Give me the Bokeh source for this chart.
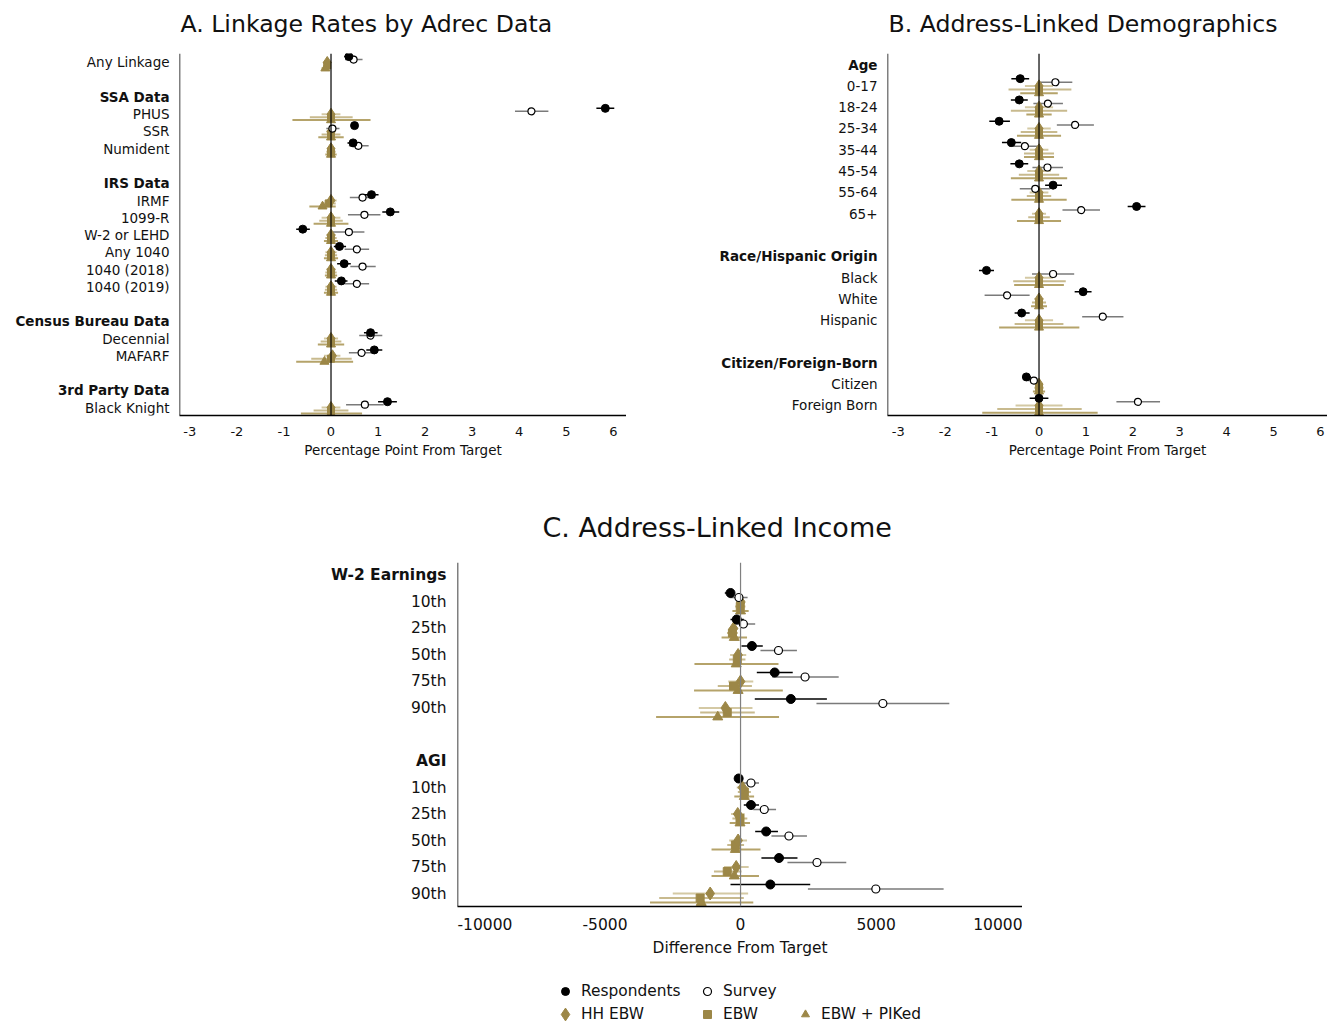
from bokeh.plotting import figure
from bokeh.layouts import column, row
from bokeh.models import Range1d, FixedTicker, Span, Legend, LegendItem, ColumnDataSource, Spacer, Title
from bokeh.core.properties import value
from bokeh.embed import file_html
from bokeh.resources import INLINE

FONT = "DejaVu Sans"
GOLD = "#9c8747"

series_names = ["Respondents", "Survey", "HH EBW", "EBW", "EBW + PIKed"]

# ---------------- Panel A data ----------------
a_rows = ["Any Linkage", "", "SSA Data", "PHUS", "SSR", "Numident", "", "IRS Data", "IRMF", "1099-R",
          "W-2 or LEHD", "Any 1040", "1040 (2018)", "1040 (2019)", "", "Census Bureau Data", "Decennial",
          "MAFARF", "", "3rd Party Data", "Black Knight"]
a_headers = ["SSA Data", "IRS Data", "Census Bureau Data", "3rd Party Data"]
a_resp    = [0.38, 5.83, 0.50, 0.47, 0.86, 1.26, -0.60, 0.18, 0.28, 0.22, 0.84, 0.92, 1.20]
a_resp_lo = [0.28, 5.64, 0.46, 0.35, 0.71, 1.09, -0.74, 0.06, 0.13, 0.08, 0.70, 0.75, 1.00]
a_resp_hi = [0.50, 6.02, 0.54, 0.60, 1.01, 1.45, -0.45, 0.32, 0.42, 0.35, 0.99, 1.09, 1.40]
a_surv    = [0.48, 4.26, 0.03, 0.58, 0.67, 0.71, 0.38, 0.55, 0.67, 0.55, 0.84, 0.65, 0.72]
a_surv_lo = [0.30, 3.91, -0.10, 0.38, 0.40, 0.36, 0.03, 0.29, 0.41, 0.29, 0.60, 0.38, 0.32]
a_surv_hi = [0.67, 4.62, 0.18, 0.80, 0.94, 1.05, 0.71, 0.81, 0.95, 0.81, 1.09, 0.92, 1.12]
a_hh      = [-0.08, 0.00, 0.00, 0.00, 0.00, 0.00, 0.00, 0.00, 0.00, 0.00, 0.00, 0.03, 0.00]
a_hh_lo   = [-0.15, -0.20, -0.10, -0.08, -0.12, -0.20, -0.10, -0.12, -0.10, -0.12, -0.15, -0.15, -0.20]
a_hh_hi   = [0.00, 0.20, 0.10, 0.08, 0.12, 0.20, 0.10, 0.12, 0.10, 0.12, 0.15, 0.20, 0.20]
a_ebw     = [-0.08, 0.00, 0.00, 0.00, -0.05, 0.00, 0.00, 0.00, 0.00, 0.00, 0.00, 0.00, 0.00]
a_ebw_lo  = [-0.16, -0.45, -0.20, -0.10, -0.20, -0.25, -0.12, -0.13, -0.12, -0.13, -0.22, -0.42, -0.37]
a_ebw_hi  = [0.00, 0.46, 0.20, 0.10, 0.10, 0.25, 0.12, 0.13, 0.12, 0.13, 0.22, 0.44, 0.37]
a_pik     = [-0.12, 0.00, 0.00, 0.00, -0.18, 0.00, 0.00, 0.00, 0.00, 0.00, 0.00, -0.14, 0.00]
a_pik_lo  = [-0.20, -0.82, -0.27, -0.12, -0.46, -0.37, -0.15, -0.15, -0.13, -0.15, -0.28, -0.74, -0.64]
a_pik_hi  = [-0.03, 0.84, 0.27, 0.12, 0.10, 0.37, 0.15, 0.15, 0.13, 0.15, 0.28, 0.47, 0.66]
a_ticks = [-3, -2, -1, 0, 1, 2, 3, 4, 5, 6]
a_tick_labels = ["-3", "-2", "-1", "0", "1", "2", "3", "4", "5", "6"]

# ---------------- Panel B data ----------------
b_rows = ["Age", "0-17", "18-24", "25-34", "35-44", "45-54", "55-64", "65+", "", "Race/Hispanic Origin",
          "Black", "White", "Hispanic", "", "Citizen/Foreign-Born", "Citizen", "Foreign Born"]
b_headers = ["Age", "Race/Hispanic Origin", "Citizen/Foreign-Born"]
b_resp    = [-0.40, -0.42, -0.85, -0.59, -0.42, 0.30, 2.08, -1.12, 0.94, -0.37, -0.27, 0.00]
b_resp_lo = [-0.59, -0.60, -1.06, -0.79, -0.61, 0.13, 1.89, -1.28, 0.76, -0.52, -0.34, -0.20]
b_resp_hi = [-0.21, -0.24, -0.62, -0.38, -0.23, 0.49, 2.27, -0.96, 1.12, -0.20, -0.17, 0.20]
b_surv    = [0.35, 0.19, 0.77, -0.30, 0.18, -0.08, 0.90, 0.30, -0.68, 1.36, -0.11, 2.11]
b_surv_lo = [0.03, -0.12, 0.38, -0.64, -0.14, -0.41, 0.50, -0.15, -1.16, 0.92, -0.25, 1.65]
b_surv_hi = [0.71, 0.51, 1.17, 0.04, 0.51, 0.24, 1.30, 0.75, -0.20, 1.80, 0.02, 2.58]
b_hh      = [0.00, 0.00, 0.00, 0.00, 0.00, 0.00, 0.00, 0.00, 0.00, 0.00, 0.00, 0.00]
b_hh_lo   = [-0.30, -0.30, -0.25, -0.20, -0.25, -0.20, -0.15, -0.30, -0.10, -0.30, -0.08, -0.50]
b_hh_hi   = [0.30, 0.30, 0.25, 0.20, 0.25, 0.20, 0.15, 0.30, 0.10, 0.30, 0.08, 0.50]
b_ebw     = [0.00, 0.00, 0.00, 0.00, 0.00, 0.00, 0.00, 0.00, 0.00, 0.00, 0.00, 0.00]
b_ebw_lo  = [-0.65, -0.60, -0.39, -0.32, -0.43, -0.26, -0.23, -0.55, -0.15, -0.52, -0.10, -0.89]
b_ebw_hi  = [0.69, 0.60, 0.39, 0.32, 0.43, 0.26, 0.23, 0.57, 0.15, 0.52, 0.10, 0.91]
b_pik     = [0.00, 0.00, 0.00, 0.00, 0.00, 0.00, 0.00, 0.00, 0.00, 0.00, 0.00, 0.00]
b_pik_lo  = [-0.40, -0.27, -0.47, -0.32, -0.60, -0.59, -0.47, -0.53, -0.17, -0.85, -0.13, -1.21]
b_pik_hi  = [0.40, 0.27, 0.47, 0.32, 0.60, 0.59, 0.47, 0.53, 0.17, 0.86, 0.13, 1.25]
b_ticks = a_ticks
b_tick_labels = a_tick_labels

# ---------------- Panel C data ----------------
c_rows = ["W-2 Earnings", "10th", "25th", "50th", "75th", "90th", "", "AGI", "10th", "25th", "50th", "75th", "90th"]
c_headers = ["W-2 Earnings", "AGI"]
c_resp    = [-370, -140, 420, 1260, 1855, -70, 385, 945, 1420, 1100]
c_resp_lo = [-580, -370, 35, 600, 525, -190, 120, 540, 770, -370]
c_resp_hi = [-230, 120, 820, 1925, 3185, 70, 680, 1380, 2100, 2570]
c_surv    = [-60, 105, 1400, 2380, 5250, 385, 875, 1785, 2820, 4990]
c_surv_lo = [-400, -260, 735, 1170, 2800, 35, 470, 1140, 1730, 2485]
c_surv_hi = [260, 540, 2080, 3620, 7700, 680, 1310, 2450, 3900, 7490]
c_hh      = [10, -260, -90, 0, -560, 70, -105, -90, -160, -1120]
c_hh_lo   = [-130, -420, -385, -455, -1540, -140, -350, -420, -610, -2500]
c_hh_hi   = [150, -100, 210, 470, 440, 280, 150, 240, 300, 280]
c_ebw     = [-10, -300, -120, -260, -490, 140, -20, -190, -490, -1490]
c_ebw_lo  = [-200, -500, -420, -840, -1490, -100, -300, -490, -980, -3000]
c_ebw_hi  = [180, -100, 180, 420, 525, 380, 250, 130, 35, 120]
c_pik     = [0, -230, -160, -90, -840, 140, -20, -190, -230, -1450]
c_pik_lo  = [-300, -700, -1700, -1715, -3115, -230, -400, -1070, -1070, -3340]
c_pik_hi  = [300, 240, 1400, 1560, 1420, 500, 350, 735, 680, 470]
c_ticks = [-10000, -5000, 0, 5000, 10000]
c_tick_labels = ["-10000", "-5000", "0", "5000", "10000"]

# ---------------- styling ----------------
OFFSETS = [-0.34, -0.17, 0.0, 0.17, 0.34]
BAR_COLORS = ["#000000", "#7a7a7a", "#d4c9a4", "#c8ba8e", "#b5a36a"]
BAR_WIDTHS = [1.5, 1.5, 2.0, 2.0, 2.0]


def hide_grids(f):
    for g in f.grid:
        g.visible = False


def make_panel(rows, headers, data, xr, yr, label_w, frame_w, height, top, bottom,
               title, title_size, title_offset, filler_standoff, ticks, tick_labels, xlabel,
               lab_size, tick_size, axlab_size, msize, zero_color, label_pad,
               tick_standoff, axlab_standoff):
    y_range = Range1d(start=yr[0], end=yr[1])
    item_rows = [i for i, r in enumerate(rows) if r and r not in headers]

    # label column
    lf = figure(width=label_w, height=height, x_range=Range1d(0, label_w), y_range=y_range,
                x_axis_location=None, y_axis_location=None, toolbar_location=None,
                output_backend="svg", min_border_top=top, min_border_bottom=bottom,
                min_border_left=0, min_border_right=0, outline_line_color=None)
    hide_grids(lf)
    head_idx = [i for i, r in enumerate(rows) if r in headers]
    lf.text(x=[label_w - label_pad] * len(item_rows), y=item_rows, text=[rows[i] for i in item_rows],
            text_align="right", text_baseline="middle", text_font=value(FONT),
            text_font_size=lab_size, text_color="#111111")
    lf.text(x=[label_w - label_pad] * len(head_idx), y=head_idx, text=[rows[i] for i in head_idx],
            text_align="right", text_baseline="middle", text_font=value(FONT),
            text_font_size=lab_size, text_font_style="bold", text_color="#111111")

    # plot
    p = figure(width=frame_w, height=height, x_range=Range1d(*xr), y_range=y_range,
               y_axis_location=None, toolbar_location=None, output_backend="svg",
               min_border_top=top, min_border_bottom=bottom, min_border_left=0, min_border_right=0,
               outline_line_color=None, title_location=None)
    # spacer title between frame and real title, then the real title
    p.add_layout(Title(text=" ", text_font_size="10px", standoff=filler_standoff), "above")
    p.add_layout(Title(text=title, align="left", offset=title_offset, text_font=FONT,
                       text_font_size=title_size, text_font_style="normal", text_color="#111111",
                       standoff=2), "above")
    hide_grids(p)

    ax = p.xaxis[0]
    ax.ticker = FixedTicker(ticks=ticks)
    ax.major_label_overrides = {t: l for t, l in zip(ticks, tick_labels)}
    ax.axis_line_color = "black"
    ax.axis_line_width = 1.3
    ax.major_tick_line_color = None
    ax.minor_tick_line_color = None
    ax.major_label_standoff = tick_standoff
    ax.major_label_text_font = FONT
    ax.major_label_text_font_size = tick_size
    ax.major_label_text_color = "#111111"
    ax.axis_label = xlabel
    ax.axis_label_text_font = FONT
    ax.axis_label_text_font_size = axlab_size
    ax.axis_label_text_font_style = "normal"
    ax.axis_label_text_color = "#111111"
    ax.axis_label_standoff = axlab_standoff

    p.add_layout(Span(location=xr[0], dimension="height", line_color="black", line_width=1.5))
    p.add_layout(Span(location=0, dimension="height", line_color=zero_color, line_width=1.2))

    # error bars
    for k, (est, lo, hi) in enumerate(data):
        ys = [r + OFFSETS[k] for r in item_rows]
        src = ColumnDataSource(dict(x=est, lo=lo, hi=hi, y=ys))
        p.segment(x0="lo", x1="hi", y0="y", y1="y", source=src,
                  line_color=BAR_COLORS[k], line_width=BAR_WIDTHS[k])
    # markers (gold first, then survey, respondents on top)
    marker_specs = [
        dict(marker="circle", fill_color="black", line_color="black", size=msize),
        dict(marker="circle", fill_color="white", line_color="black", size=msize - 1, line_width=1.2),
        dict(marker="diamond", fill_color=GOLD, line_color=GOLD, size=msize + 4),
        dict(marker="square", fill_color=GOLD, line_color=GOLD, size=msize - 1),
        dict(marker="triangle", fill_color=GOLD, line_color=GOLD, size=msize + 1),
    ]
    for k in [4, 3, 2, 1, 0]:
        est = data[k][0]
        ys = [r + OFFSETS[k] for r in item_rows]
        p.scatter(x=est, y=ys, **marker_specs[k])
    return lf, p


lA, pA = make_panel(a_rows, a_headers,
                    [(a_resp, a_resp_lo, a_resp_hi), (a_surv, a_surv_lo, a_surv_hi),
                     (a_hh, a_hh_lo, a_hh_hi), (a_ebw, a_ebw_lo, a_ebw_hi), (a_pik, a_pik_lo, a_pik_hi)],
                    xr=(-3.22, 6.28), yr=(20.46, -0.52), label_w=179, frame_w=447, height=480,
                    top=53, bottom=65, title="A. Linkage Rates by Adrec Data", title_size="23.6px",
                    title_offset=1, filler_standoff=2, ticks=a_ticks, tick_labels=a_tick_labels,
                    xlabel="Percentage Point From Target", lab_size="13.5px", tick_size="13px",
                    axlab_size="13.5px", msize=8, zero_color="black", label_pad=10,
                    tick_standoff=5, axlab_standoff=3)

lB, pB = make_panel(b_rows, b_headers,
                    [(b_resp, b_resp_lo, b_resp_hi), (b_surv, b_surv_lo, b_surv_hi),
                     (b_hh, b_hh_lo, b_hh_hi), (b_ebw, b_ebw_lo, b_ebw_hi), (b_pik, b_pik_lo, b_pik_hi)],
                    xr=(-3.23, 6.15), yr=(16.47, -0.52), label_w=261, frame_w=440, height=480,
                    top=53, bottom=65, title="B. Address-Linked Demographics", title_size="23.6px",
                    title_offset=1, filler_standoff=2, ticks=b_ticks, tick_labels=b_tick_labels,
                    xlabel="Percentage Point From Target", lab_size="13.5px", tick_size="13px",
                    axlab_size="13.5px", msize=8, zero_color="black", label_pad=10,
                    tick_standoff=5, axlab_standoff=3)

lC, pC = make_panel(c_rows, c_headers,
                    [(c_resp, c_resp_lo, c_resp_hi), (c_surv, c_surv_lo, c_surv_hi),
                     (c_hh, c_hh_lo, c_hh_hi), (c_ebw, c_ebw_lo, c_ebw_hi), (c_pik, c_pik_lo, c_pik_hi)],
                    xr=(-10440, 10400), yr=(12.49, -0.49), label_w=457, frame_w=565, height=482,
                    top=82, bottom=56, title="C. Address-Linked Income", title_size="27px",
                    title_offset=85, filler_standoff=5.5, ticks=c_ticks, tick_labels=c_tick_labels,
                    xlabel="Difference From Target", lab_size="15.5px", tick_size="15.5px",
                    axlab_size="15.4px", msize=9, zero_color="#808080", label_pad=11,
                    tick_standoff=5, axlab_standoff=6)

# ---------------- legend ----------------
lg = figure(width=1327, height=60, x_range=Range1d(0, 1), y_range=Range1d(0, 1),
            x_axis_location=None, y_axis_location=None, toolbar_location=None, output_backend="svg",
            min_border_top=0, min_border_bottom=0, min_border_left=0, min_border_right=0,
            outline_line_color=None)
hide_grids(lg)
leg_specs = [
    dict(marker="circle", fill_color="black", line_color="black"),
    dict(marker="circle", fill_color="white", line_color="black", line_width=1.2),
    dict(marker="diamond", fill_color=GOLD, line_color=GOLD),
    dict(marker="square", fill_color=GOLD, line_color=GOLD),
    dict(marker="triangle", fill_color=GOLD, line_color=GOLD),
]
leg_locs = [(555, 21), (697, 21), (549, -8), (697, -2), (795, -2)]
leg_glyph = [20, 20, 32, 20, 20]
leg_standoff = [6, 6, 0, 6, 6]
for name, spec, loc, gs, so in zip(series_names, leg_specs, leg_locs, leg_glyph, leg_standoff):
    # legend swatch renderer; its point sits outside the visible range
    r = lg.scatter(x=[5], y=[5], **spec)
    leg = Legend(items=[LegendItem(label=name, renderers=[r])], location=loc,
                 orientation="horizontal", padding=0, margin=0, spacing=0,
                 border_line_color=None, background_fill_alpha=0,
                 label_text_font=FONT, label_text_font_size="15.4px", label_text_color="#111111",
                 glyph_width=gs, glyph_height=gs, label_standoff=so, label_height=20)
    lg.add_layout(leg, "center")

page = column(
    row(lA, pA, lB, pB),
    row(lC, pC, Spacer(width=305, height=482)),
    lg,
)

open("out.html", "w").write(file_html(page, INLINE))
